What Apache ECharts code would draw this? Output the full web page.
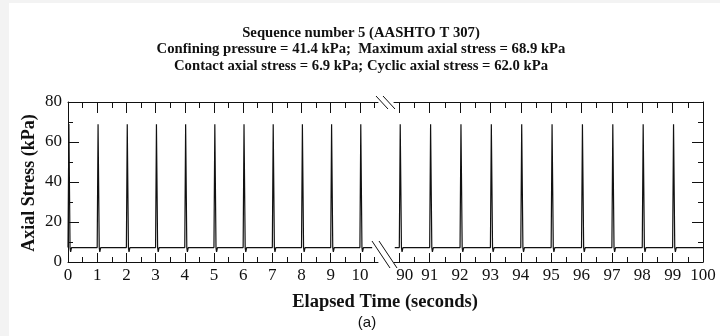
<!DOCTYPE html>
<html><head><meta charset="utf-8">
<script src="https://cdn.jsdelivr.net/npm/echarts@6/dist/echarts.min.js"></script>
<style>html,body{margin:0;padding:0;background:#fff}#c{width:720px;height:336px}</style>
</head><body><div id="c"></div>
<script>
// ---- data ----
const titleLines = [
  'Sequence number 5 (AASHTO T 307)',
  'Confining pressure = 41.4 kPa;  Maximum axial stress = 68.9 kPa',
  'Contact axial stress = 6.9 kPa; Cyclic axial stress = 62.0 kPa'
];
const xName = 'Elapsed Time (seconds)';
const yName = 'Axial Stress (kPa)';
const caption = '(a)';

const leftTime = [
  0, 0.03, 0.07, 0.09, 0.12,
  1, 1.03, 1.07, 1.09, 1.12,
  2, 2.03, 2.07, 2.09, 2.12,
  3, 3.03, 3.07, 3.09, 3.12,
  4, 4.03, 4.07, 4.09, 4.12,
  5, 5.03, 5.07, 5.09, 5.12,
  6, 6.03, 6.07, 6.09, 6.12,
  7, 7.03, 7.07, 7.09, 7.12,
  8, 8.03, 8.07, 8.09, 8.12,
  9, 9.03, 9.07, 9.09, 9.12,
  10, 10.03, 10.07, 10.09, 10.12,
  10.42
];
const leftStress = [
  7.2, 69.0, 7.2, 5.0, 7.2,
  7.2, 68.9, 7.2, 5.0, 7.2,
  7.2, 68.9, 7.2, 5.0, 7.2,
  7.2, 68.9, 7.2, 5.0, 7.2,
  7.2, 68.9, 7.2, 5.0, 7.2,
  7.2, 68.9, 7.2, 5.0, 7.2,
  7.2, 68.9, 7.2, 5.0, 7.2,
  7.2, 68.9, 7.2, 5.0, 7.2,
  7.2, 68.9, 7.2, 5.0, 7.2,
  7.2, 68.9, 7.2, 5.0, 7.2,
  7.2, 68.9, 7.2, 5.0, 7.2,
  7.2
];
const rightTime = [
  89.85,
  90, 90.03, 90.07, 90.09, 90.12,
  91, 91.03, 91.07, 91.09, 91.12,
  92, 92.03, 92.07, 92.09, 92.12,
  93, 93.03, 93.07, 93.09, 93.12,
  94, 94.03, 94.07, 94.09, 94.12,
  95, 95.03, 95.07, 95.09, 95.12,
  96, 96.03, 96.07, 96.09, 96.12,
  97, 97.03, 97.07, 97.09, 97.12,
  98, 98.03, 98.07, 98.09, 98.12,
  99, 99.03, 99.07, 99.09, 99.12,
  100
];
const rightStress = [
  7.2,
  7.2, 68.9, 7.2, 5.0, 7.2,
  7.2, 68.9, 7.2, 5.0, 7.2,
  7.2, 68.9, 7.2, 5.0, 7.2,
  7.2, 68.9, 7.2, 5.0, 7.2,
  7.2, 68.9, 7.2, 5.0, 7.2,
  7.2, 68.9, 7.2, 5.0, 7.2,
  7.2, 68.9, 7.2, 5.0, 7.2,
  7.2, 68.9, 7.2, 5.0, 7.2,
  7.2, 68.9, 7.2, 5.0, 7.2,
  7.2, 68.9, 7.2, 5.0, 7.2,
  7.2
];
const leftMajor = [0, 1, 2, 3, 4, 5, 6, 7, 8, 9, 10];
const leftMinor = [0.5, 1.5, 2.5, 3.5, 4.5, 5.5, 6.5, 7.5, 8.5, 9.5, 10.5];
const rightMajor = [90, 91, 92, 93, 94, 95, 96, 97, 98, 99, 100];
const rightMinor = [90.5, 91.5, 92.5, 93.5, 94.5, 95.5, 96.5, 97.5, 98.5, 99.5];
const leftRange = [0, 10.62];
const rightRange = [89.825, 100];
const yRange = [0, 80];
const yInterval = 20;

// ---- chart ----
const INK = '#111';
const SERIF = '"Liberation Serif", "Times New Roman", serif';
const chart = echarts.init(document.getElementById('c'), null, {renderer: 'canvas'});

function xAx(grid, pos, range, values, len, line, label) {
  return {
    type: 'value', gridIndex: grid, position: pos, min: range[0], max: range[1],
    axisLine: {show: line, onZero: false, lineStyle: {color: INK, width: 1}},
    axisTick: {show: true, inside: true, length: len, customValues: values, lineStyle: {color: INK, width: 1}},
    axisLabel: label ? {
      show: true, customValues: values, margin: 5, color: INK, fontFamily: SERIF, fontSize: 17,
      formatter: v => (v === 90 ? '{s|90}' : String(v)),
      rich: {s: {padding: [0, 0, 0, 11], color: INK, fontFamily: SERIF, fontSize: 17}}
    } : {show: false},
    splitLine: {show: false}
  };
}
function yAx(grid, pos, label) {
  return {
    type: 'value', gridIndex: grid, position: pos, min: yRange[0], max: yRange[1], interval: yInterval,
    axisLine: {show: true, onZero: false, lineStyle: {color: INK, width: 1}},
    axisTick: {show: true, inside: true, length: 11, lineStyle: {color: INK, width: 1}},
    minorTick: {show: true, splitNumber: 2, length: 5, lineStyle: {color: INK, width: 1}},
    axisLabel: label ? {show: true, margin: 6, color: INK, fontFamily: SERIF, fontSize: 17} : {show: false},
    splitLine: {show: false}, minorSplitLine: {show: false}
  };
}

const gTop = 102, gH = 160;
const option = {
  backgroundColor: '#fff',
  animation: false,
  grid: [
    {left: 68, top: gTop, width: 310, height: gH},
    {left: 394, top: gTop, width: 309, height: gH}
  ],
  xAxis: [
    xAx(0, 'bottom', leftRange, leftMajor, 9, true, true),
    xAx(0, 'bottom', leftRange, leftMinor, 5, false, false),
    xAx(0, 'top', leftRange, leftMajor, 11, true, false),
    xAx(0, 'top', leftRange, leftMinor, 6, false, false),
    xAx(1, 'bottom', rightRange, rightMajor, 9, true, true),
    xAx(1, 'bottom', rightRange, rightMinor, 5, false, false),
    xAx(1, 'top', rightRange, rightMajor, 11, true, false),
    xAx(1, 'top', rightRange, rightMinor, 6, false, false)
  ],
  yAxis: [
    yAx(0, 'left', true),
    yAx(1, 'right', false)
  ],
  series: [
    {type: 'line', xAxisIndex: 0, yAxisIndex: 0, showSymbol: false, silent: true,
     lineStyle: {color: INK, width: 1.2},
     data: leftTime.map((t, i) => [t, leftStress[i]])},
    {type: 'line', xAxisIndex: 4, yAxisIndex: 1, showSymbol: false, silent: true,
     lineStyle: {color: INK, width: 1.2},
     data: rightTime.map((t, i) => [t, rightStress[i]])}
  ],
  graphic: [
    {type: 'rect', shape: {x: 0, y: 0, width: 720, height: 3}, style: {fill: '#f3f3f3'}, silent: true},
    {type: 'rect', shape: {x: 0, y: 0, width: 9, height: 336}, style: {fill: '#f3f3f3'}, silent: true},
    {type: 'text', x: 361, y: 33, style: {text: titleLines[0], fill: INK, font: 'bold 14.7px ' + SERIF, textAlign: 'center', textVerticalAlign: 'middle'}},
    {type: 'text', x: 361, y: 49.5, style: {text: titleLines[1], fill: INK, font: 'bold 14.7px ' + SERIF, textAlign: 'center', textVerticalAlign: 'middle'}},
    {type: 'text', x: 361, y: 66, style: {text: titleLines[2], fill: INK, font: 'bold 14.7px ' + SERIF, textAlign: 'center', textVerticalAlign: 'middle'}},
    {type: 'text', x: 29, y: 183, rotation: Math.PI / 2, style: {text: yName, fill: INK, font: 'bold 18px ' + SERIF, textAlign: 'center', textVerticalAlign: 'middle'}},
    {type: 'text', x: 385, y: 302, style: {text: xName, fill: INK, font: 'bold 18.5px ' + SERIF, textAlign: 'center', textVerticalAlign: 'middle'}},
    {type: 'text', x: 367, y: 323, style: {text: caption, fill: INK, font: '15px "Liberation Sans", Arial, sans-serif', textAlign: 'center', textVerticalAlign: 'middle'}},
    // axis break marks
    {type: 'line', shape: {x1: 376, y1: 96, x2: 388, y2: 109}, style: {stroke: INK, lineWidth: 1}},
    {type: 'line', shape: {x1: 383, y1: 96, x2: 395, y2: 109}, style: {stroke: INK, lineWidth: 1}},
    {type: 'line', shape: {x1: 372, y1: 241, x2: 390, y2: 268}, style: {stroke: INK, lineWidth: 1}},
    {type: 'line', shape: {x1: 379, y1: 241, x2: 397, y2: 268}, style: {stroke: INK, lineWidth: 1}}
  ]
};
chart.setOption(option);
</script>
</body></html>
